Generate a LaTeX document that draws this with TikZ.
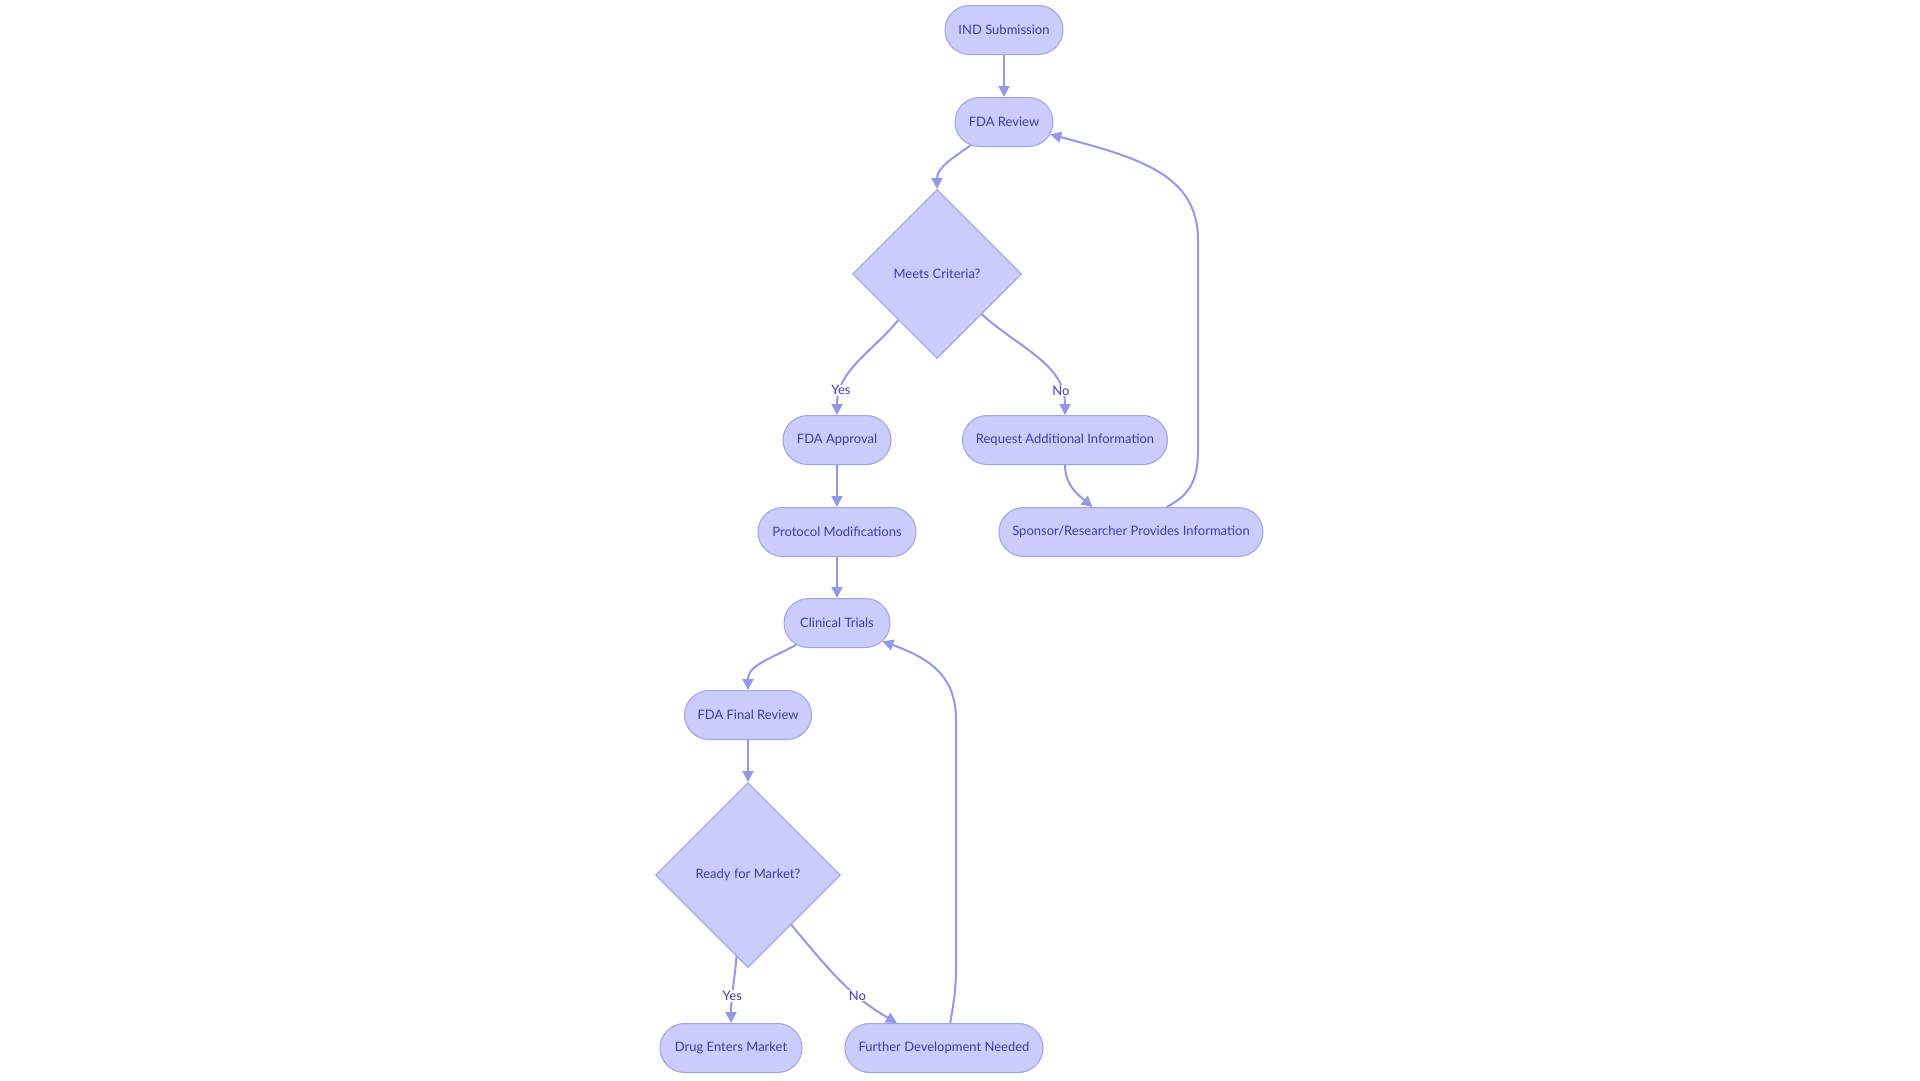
\documentclass[tikz,border=0pt]{standalone}
\usepackage{fontspec}
\setmainfont{Lato}
\usetikzlibrary{shapes.geometric,shapes.misc,arrows.meta}
\definecolor{nodefill}{RGB}{202,204,251}
\definecolor{nodeline}{RGB}{160,162,236}
\definecolor{nodetext}{RGB}{60,60,170}
\definecolor{edgecol}{RGB}{150,152,230}
\begin{document}
\begin{tikzpicture}[x=1pt,y=1pt,
  pill/.style={rounded rectangle, draw=nodeline, fill=nodefill, line width=1pt,
    minimum height=49pt, inner xsep=0pt, text=nodetext, font=\fontsize{13}{15}\selectfont},
  decision/.style={diamond, draw=nodeline, fill=nodefill, line width=1pt,
    inner sep=0pt, text=nodetext, font=\fontsize{13}{15}\selectfont},
  flow/.style={draw=edgecol, line width=2pt, -{Triangle[length=11pt,width=11pt]}},
  elabel/.style={fill=white, text=nodetext, inner sep=1pt, font=\fontsize{13}{15}\selectfont}]
\useasboundingbox[fill=white] (0,0) rectangle (1920,-1080);

\node[pill, minimum width=118pt] (ind) at (1004,-30) {IND Submission};
\node[pill, minimum width=98pt] (fda) at (1004,-122) {FDA Review};
\node[decision, minimum width=169pt, minimum height=169pt] (meets) at (937,-274) {Meets Criteria?};
\node[pill, minimum width=108pt] (app) at (837,-440) {FDA Approval};
\node[pill, minimum width=205pt] (req) at (1065,-440) {Request Additional Information};
\node[pill, minimum width=158pt] (proto) at (837,-532) {Protocol Modifications};
\node[pill, minimum width=264pt] (spon) at (1131,-532) {Sponsor/Researcher Provides Information};
\node[pill, minimum width=106pt] (clin) at (837,-623) {Clinical Trials};
\node[pill, minimum width=127pt] (final) at (748,-715) {FDA Final Review};
\node[decision, minimum width=185pt, minimum height=185pt] (ready) at (748,-875) {Ready for Market?};
\node[pill, minimum width=142pt] (drug) at (731,-1048) {Drug Enters Market};
\node[pill, minimum width=198pt] (further) at (944,-1048) {Further Development Needed};

\draw[flow] (ind) -- (fda);
\draw[flow] (fda.215) to[out=-145,in=90] (meets.north);
\draw[flow] (meets.230) to[out=-130,in=90] node[elabel,pos=0.79] {Yes} (app.north);
\draw[flow] (meets.-42) to[out=-42,in=90] node[elabel,pos=0.82] {No} (req.north);
\draw[flow] (req.south) to[out=-90,in=140] (spon.147);
\draw[flow] (spon.35) .. controls (1190,-495) and (1198,-480) .. (1198,-450)
  -- (1198,-240) .. controls (1198,-175) and (1140,-158) .. (fda.-15);
\draw[flow] (app) -- (proto);
\draw[flow] (proto) -- (clin);
\draw[flow] (clin.208) to[out=-150,in=90] (final.north);
\draw[flow] (final) -- (ready);
\draw[flow] (ready.-98) to[out=-95,in=90] node[elabel,pos=0.6] {Yes} (drug.north);
\draw[flow] (ready.-49) to[out=-50,in=150] node[elabel,pos=0.68] {No} (further.152);
\draw[flow] (further.76) .. controls (953,-1005) and (956,-995) .. (956,-965)
  -- (956,-720) .. controls (956,-680) and (935,-660) .. (clin.-22);
\end{tikzpicture}
\end{document}
